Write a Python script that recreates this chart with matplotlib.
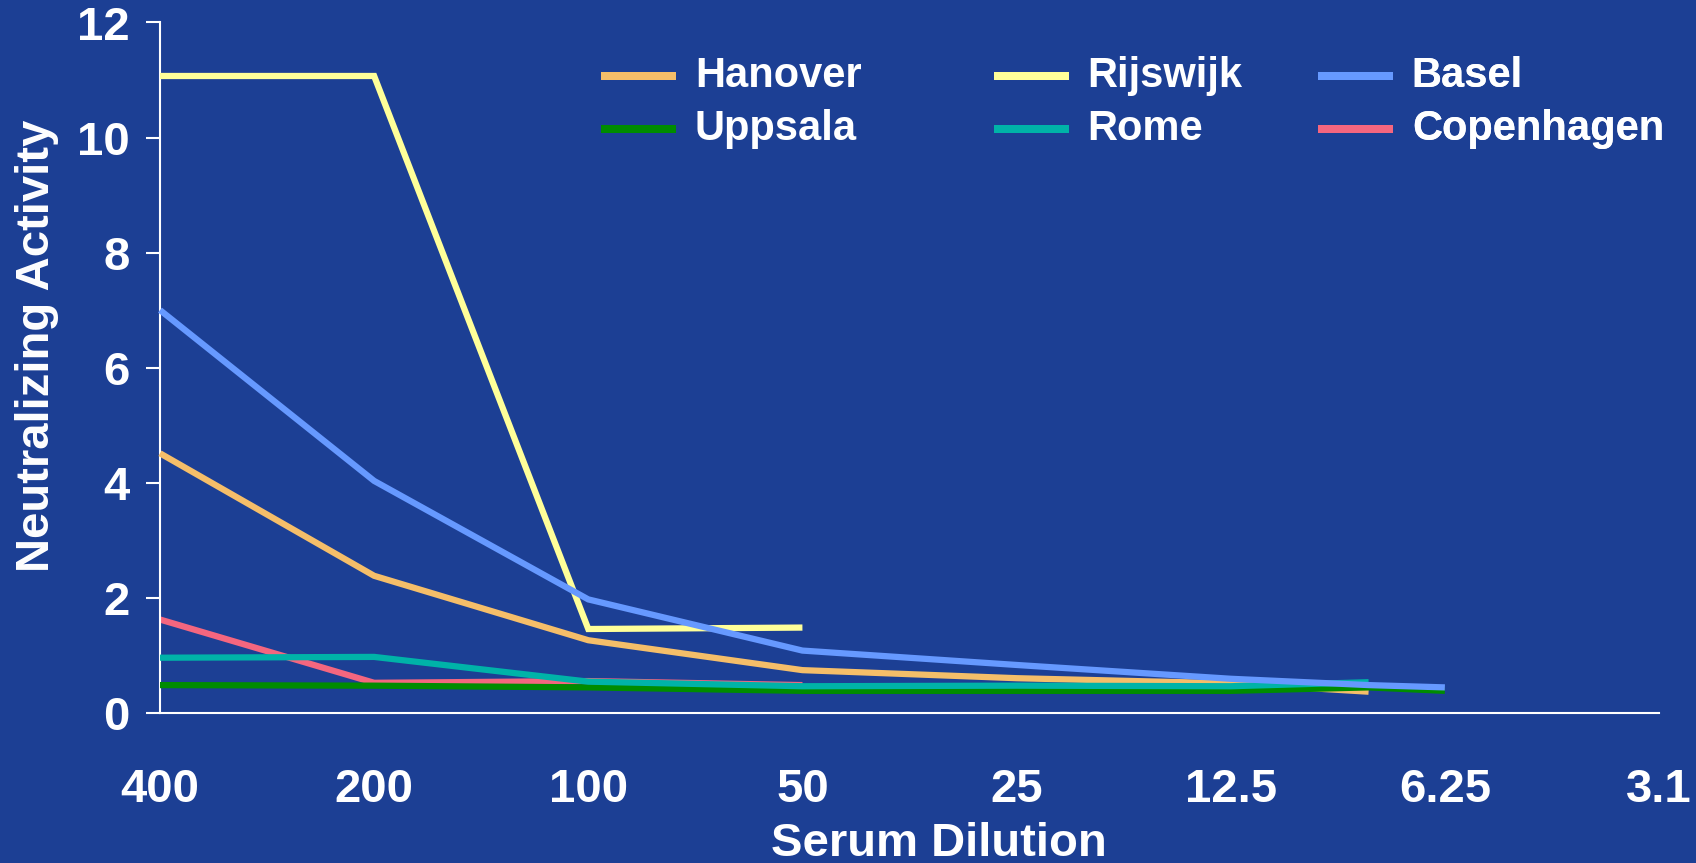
import numpy as np
import matplotlib
matplotlib.use("Agg")
import matplotlib.pyplot as plt
from matplotlib.ticker import FixedLocator, NullLocator

plt.rcParams['font.family'] = ['Liberation Sans', 'DejaVu Sans']
plt.rcParams['font.weight'] = 'bold'

# ------------------------------------------------------------------
# data
# ------------------------------------------------------------------
dilution = [400, 200, 100, 50, 25, 12.5, 8, 6.25]
nan = np.nan

hanover    = [4.51, 2.38, 1.26, 0.74, 0.60, 0.51, 0.365, nan]
rijswijk   = [11.07, 11.07, 1.455, 1.48, nan, nan, nan, nan]
basel      = [7.00, 4.03, 1.97, 1.08, 0.83, 0.59, 0.48, 0.44]
uppsala    = [0.48, 0.47, 0.44, 0.38, 0.38, 0.38, 0.44, 0.38]
rome       = [0.956, 0.97, 0.54, 0.46, 0.47, 0.46, 0.53, nan]
copenhagen = [1.62, 0.52, 0.55, 0.48, nan, nan, nan, nan]

x_ticks = [400, 200, 100, 50, 25, 12.5, 6.25, 3.125]
x_tick_labels = ["400", "200", "100", "50", "25", "12.5", "6.25", "3.1"]
y_ticks = [0, 2, 4, 6, 8, 10, 12]

# legend order (row-major, 3 columns)
names = ["Hanover", "Rijswijk", "Basel", "Uppsala", "Rome", "Copenhagen"]
series = [hanover, rijswijk, basel, uppsala, rome, copenhagen]
colors = ["#F5BE69", "#FFFF99", "#6699FF", "#008C00", "#00B3A8", "#F4667F"]
zorders = [3, 4, 8, 6, 7, 2]

BG = "#1C3F94"
W, H = 1696, 863

# ------------------------------------------------------------------
# figure
# ------------------------------------------------------------------
fig = plt.figure(figsize=(W / 100, H / 100), dpi=100, facecolor=BG)
ax = fig.add_axes([160 / W, 1 - 712.7 / H, 1499 / W, 690.2 / H])
ax.set_facecolor(BG)

lines = []
for name, vals, col, z in zip(names, series, colors, zorders):
    ln, = ax.plot(dilution, vals, color=col, lw=4.5, label=name, zorder=z,
                  clip_on=False, solid_capstyle='butt', solid_joinstyle='miter')
    lines.append(ln)

ax.set_xscale('log', base=2)
ax.set_xlim(400, 3.125)
ax.set_ylim(0, 12)

ax.xaxis.set_major_locator(FixedLocator(x_ticks))
ax.xaxis.set_minor_locator(NullLocator())
ax.set_xticklabels(x_tick_labels)
ax.set_yticks(y_ticks)

for s in ["top", "right"]:
    ax.spines[s].set_visible(False)
for s in ["left", "bottom"]:
    ax.spines[s].set_color("white")
    ax.spines[s].set_linewidth(1.5)

ax.tick_params(axis='x', length=0, pad=40, labelsize=34, labelcolor='white')
ax.tick_params(axis='y', length=9.8, width=1.5, color='white', pad=12,
               labelsize=34, labelcolor='white')

fig.text(37 / W, 1 - 346 / H, "Neutralizing Activity", rotation=90,
         ha='center', va='center', fontsize=34, color='white')
fig.text(939 / W, 0.048, "Serum Dilution", ha='center', va='top',
         fontsize=34, color='white')

# legend: three columns, two rows each
legend_x = [601, 994, 1318]
for j, x0 in enumerate(legend_x):
    leg = ax.legend(handles=[lines[j], lines[j + 3]], loc='upper left',
                    bbox_to_anchor=(x0 / W, 1 - 56 / H),
                    bbox_transform=fig.transFigure, frameon=False,
                    fontsize=30, handlelength=1.79, handletextpad=0.46,
                    labelspacing=0.31, borderpad=0, borderaxespad=0,
                    handleheight=0.1)
    for t in leg.get_texts():
        t.set_color('white')
    for l in leg.get_lines():
        l.set_linewidth(5.76)
    ax.add_artist(leg)

fig.savefig("out.png", dpi=100, facecolor=BG)
